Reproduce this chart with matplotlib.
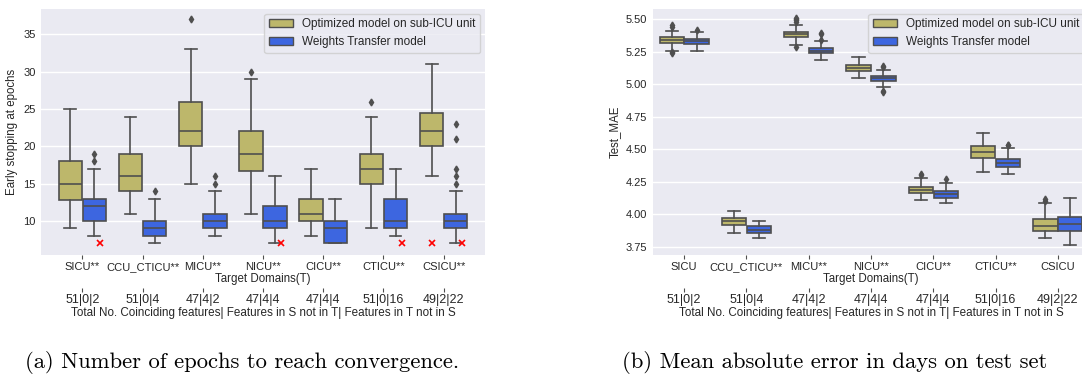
import numpy as np
import matplotlib.pyplot as plt
from matplotlib.patches import Patch

plt.rcParams['font.family'] = ['Liberation Sans', 'DejaVu Sans']

domains_a = ['SICU**', 'CCU_CTICU**', 'MICU**', 'NICU**', 'CICU**', 'CTICU**', 'CSICU**']
domains_b = ['SICU', 'CCU_CTICU**', 'MICU**', 'NICU**', 'CICU**', 'CTICU**', 'CSICU']
feature_counts = ['51|0|2', '51|0|4', '47|4|2', '47|4|4', '47|4|4', '51|0|16', '49|2|22']
series_names = ['Optimized model on sub-ICU unit', 'Weights Transfer model']

# (a) early stopping epochs, box summaries per domain
ep_opt_lo = [9, 11, 15, 11, 8, 9, 16]
ep_opt_q1 = [12.75, 14, 20, 16.75, 10, 15, 20]
ep_opt_med = [15, 16, 22, 19, 11, 17, 22]
ep_opt_q3 = [18, 19, 26, 22, 13, 19, 24.5]
ep_opt_hi = [25, 24, 33, 29, 17, 24, 31]
ep_opt_fliers = [[], [], [37], [30], [], [26], []]

ep_wt_lo = [8, 7, 8, 7, 7, 8, 7]
ep_wt_q1 = [10, 8, 9, 9, 7, 9, 9]
ep_wt_med = [12, 9, 10, 10, 9, 10, 10]
ep_wt_q3 = [13, 10, 11, 12, 10, 13, 11]
ep_wt_hi = [17, 13, 14, 16, 13, 17, 14]
ep_wt_fliers = [[18, 19], [14], [15, 16], [], [], [], [15, 16, 17, 21, 23]]

# red crosses in (a)
cross_domain = [0, 3, 5, 6, 6]
cross_offset = [0.3, 0.3, 0.3, -0.2, 0.3]
cross_value = [7, 7, 7, 7, 7]

# (b) test MAE
mae_opt_lo = [5.258, 3.856, 5.30, 5.047, 4.106, 4.327, 3.818]
mae_opt_q1 = [5.32, 3.918, 5.361, 5.101, 4.16, 4.435, 3.874]
mae_opt_med = [5.343, 3.946, 5.384, 5.124, 4.185, 4.478, 3.913]
mae_opt_q3 = [5.366, 3.969, 5.404, 5.147, 4.208, 4.525, 3.961]
mae_opt_hi = [5.41, 4.026, 5.458, 5.211, 4.278, 4.628, 4.085]
mae_opt_fliers = [[5.44, 5.456, 5.245, 5.25], [], [5.479, 5.495, 5.505, 5.512, 5.29], [],
                  [4.30, 4.31], [], [4.105, 4.115]]

mae_wt_lo = [5.255, 3.82, 5.188, 4.983, 4.088, 4.312, 3.766]
mae_wt_q1 = [5.312, 3.859, 5.238, 5.029, 4.126, 4.363, 3.869]
mae_wt_med = [5.333, 3.882, 5.258, 5.05, 4.152, 4.391, 3.926]
mae_wt_q3 = [5.35, 3.907, 5.281, 5.068, 4.177, 4.424, 3.982]
mae_wt_hi = [5.405, 3.951, 5.33, 5.111, 4.237, 4.51, 4.126]
mae_wt_fliers = [[5.415], [], [5.34, 5.385, 5.397], [5.134, 5.14, 4.947, 4.94],
                 [4.273], [4.53, 4.535], []]

c_opt = '#BDB76B'
c_wt = '#3D66E0'
gray = '#4f4f4f'
txt = '#262626'


def summaries(lo, q1, med, q3, hi, fl):
    return [dict(whislo=a, q1=b, med=c, q3=d, whishi=e, fliers=f)
            for a, b, c, d, e, f in zip(lo, q1, med, q3, hi, fl)]


def draw_boxes(ax, stats, pos, color):
    ax.bxp(stats, positions=pos, widths=0.39, capwidths=0.195, patch_artist=True,
           manage_ticks=False,
           boxprops=dict(facecolor=color, edgecolor=gray, linewidth=1.2),
           medianprops=dict(color=gray, linewidth=1.2),
           whiskerprops=dict(color=gray, linewidth=1.2),
           capprops=dict(color=gray, linewidth=1.2),
           flierprops=dict(marker='d', markerfacecolor=gray, markeredgecolor=gray,
                           markersize=3.5, linestyle='none'))


def style_axes(ax, labels, ylabel):
    ax.set_facecolor('#EAEAF2')
    for s in ax.spines.values():
        s.set_visible(False)
    ax.yaxis.grid(True, color='white', linewidth=1)
    ax.set_axisbelow(True)
    ax.set_xticks(np.arange(len(labels)))
    ax.set_xticklabels(labels)
    ax.tick_params(axis='x', length=3, width=0.8, color=gray, pad=2, labelsize=8, labelcolor=txt)
    ax.tick_params(axis='y', length=0, pad=4, labelsize=8, labelcolor=txt)
    ax.set_xlabel('Target Domains(T)', fontsize=8.3, color=txt, labelpad=0.5)
    ax.set_ylabel(ylabel, fontsize=8.3, color=txt, labelpad=4)
    sec = ax.secondary_xaxis(-0.134)
    sec.set_xticks(np.arange(len(labels)))
    sec.set_xticklabels(feature_counts)
    sec.tick_params(axis='x', length=3, width=0.8, color=gray, pad=1.5, labelsize=9, labelcolor=txt)
    for s in sec.spines.values():
        s.set_visible(False)
    sec.set_xlabel('Total No. Coinciding features| Features in S not in T| Features in T not in S',
                   fontsize=8.4, color=txt, labelpad=0.5)
    handles = [Patch(facecolor=c_opt, edgecolor=gray, label=series_names[0]),
               Patch(facecolor=c_wt, edgecolor=gray, label=series_names[1])]
    ax.legend(handles=handles, loc='upper right', fontsize=8.5, facecolor='#EAEAF2',
              edgecolor='#cccccc', framealpha=0.8, labelcolor=txt, borderaxespad=0.4)


fig = plt.figure(figsize=(10.82, 3.75), dpi=100)
W, H = 1082, 375
ax1 = fig.add_axes([41 / W, (H - 255) / H, 444 / W, 246 / H])
ax2 = fig.add_axes([653 / W, (H - 255) / H, 436 / W, 246 / H])

x = np.arange(len(domains_a))
draw_boxes(ax1, summaries(ep_opt_lo, ep_opt_q1, ep_opt_med, ep_opt_q3, ep_opt_hi, ep_opt_fliers), x - 0.2, c_opt)
draw_boxes(ax1, summaries(ep_wt_lo, ep_wt_q1, ep_wt_med, ep_wt_q3, ep_wt_hi, ep_wt_fliers), x + 0.2, c_wt)
ax1.plot(np.array(cross_domain) + np.array(cross_offset), cross_value, 'x', color='red',
         markersize=4, markeredgewidth=1.2, linestyle='none')
style_axes(ax1, domains_a, 'Early stopping at epochs')
ax1.set_xlim(-0.686, 6.686)
ax1.set_ylim(5.45, 38.4)
ax1.set_yticks([10, 15, 20, 25, 30, 35])

draw_boxes(ax2, summaries(mae_opt_lo, mae_opt_q1, mae_opt_med, mae_opt_q3, mae_opt_hi, mae_opt_fliers), x - 0.2, c_opt)
draw_boxes(ax2, summaries(mae_wt_lo, mae_wt_q1, mae_wt_med, mae_wt_q3, mae_wt_hi, mae_wt_fliers), x + 0.2, c_wt)
style_axes(ax2, domains_b, 'Test_MAE')
ax2.set_xlim(-0.5, 6.5)
ax2.set_ylim(3.686, 5.58)
ax2.set_yticks(np.arange(3.75, 5.51, 0.25))
ax2.set_yticklabels(['%.2f' % v for v in np.arange(3.75, 5.51, 0.25)])

cap_font = ['cmr10', 'DejaVu Serif']
fig.text(242 / W, (H - 362) / H, '(a) Number of epochs to reach convergence.',
         ha='center', va='center', fontsize=16.3, family=cap_font, color='black')
fig.text(835 / W, (H - 362) / H, '(b) Mean absolute error in days on test set',
         ha='center', va='center', fontsize=16.3, family=cap_font, color='black')

fig.savefig('out.png', dpi=100)
